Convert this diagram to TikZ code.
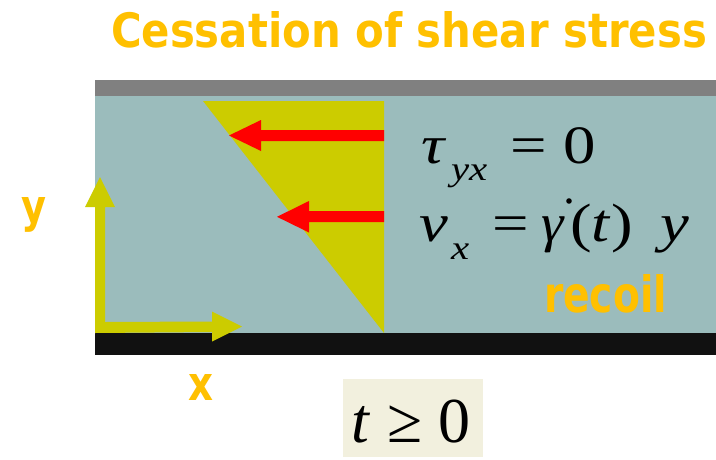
\documentclass[tikz,border=0pt]{standalone}
\usepackage{fontspec}
\setmainfont{Liberation Serif}
\newfontfamily\comicfont{DejaVu Sans}
\definecolor{fluid}{RGB}{155,188,188}
\definecolor{platetop}{RGB}{128,128,128}
\definecolor{platebot}{RGB}{17,17,17}
\definecolor{profile}{RGB}{204,204,0}
\definecolor{orangetxt}{RGB}{255,192,0}
\definecolor{boxbg}{RGB}{242,240,222}
\newcommand{\eqstretch}[1]{\scalebox{1.2}[1]{#1}}
\begin{document}
\begin{tikzpicture}[x=1pt,y=-1pt,
  every node/.style={inner sep=0pt,outer sep=0pt},
  orangelbl/.style={anchor=base west,text=orangetxt,font=\comicfont\bfseries},
  eqbig/.style={anchor=base west,font=\fontsize{54}{60}\selectfont},
  eqsub/.style={anchor=base west,font=\fontsize{34}{40}\selectfont\itshape},
  condtxt/.style={anchor=base west,font=\fontsize{64}{70}\selectfont},
  redarrow/.style={fill=red},
  axisarrow/.style={fill=profile}]
\useasboundingbox (0,0) rectangle (716,459);
\fill[white] (0,0) rectangle (716,459);
% title
\node[orangelbl] (title) at (111,47) {\resizebox{596pt}{36pt}{Cessation of shear stress}};
% plates and fluid
\fill[fluid] (95,96) rectangle (716,333);
\fill[platetop] (95,80) rectangle (716,96);
\fill[platebot] (95,333) rectangle (716,355);
% velocity profile
\fill[profile] (203,101) -- (384,101) -- (384,333) -- cycle;
% red velocity arrows
\fill[redarrow] (384,130) -- (261,130) -- (261,120) -- (229,135.5) -- (261,151) -- (261,141) -- (384,141) -- cycle;
\fill[redarrow] (384,211) -- (309,211) -- (309,201) -- (277,216.8) -- (309,232.5) -- (309,222) -- (384,222) -- cycle;
% axes
\fill[axisarrow] (95,333) -- (95,207) -- (85,207) -- (100,177) -- (115,207) -- (105,207) -- (105,322) -- (212,321.5) -- (212,311.5) -- (242,326.5) -- (212,341.5) -- (212,332) -- (95,333) -- cycle;
\node[orangelbl] (ylbl) at (22,222) {\resizebox{25pt}{25pt}{y}};
\node[orangelbl] (xlbl) at (188,400) {\resizebox{25pt}{26pt}{x}};
% equations
\node[eqbig] (tau) at (421,163) {\eqstretch{\itshape τ}};
\node[eqsub] (tausub) at (451,180) {\eqstretch{yx}};
\node[eqbig] (eq1) at (510,163) {\eqstretch{=}};
\node[eqbig] (zero1) at (563,163) {\eqstretch{0}};
\node[eqbig] (vel) at (419,241) {\eqstretch{\itshape v}};
\node[eqsub] (velsub) at (451,259) {\eqstretch{x}};
\node[eqbig] (eq2) at (492,241) {\eqstretch{=}};
\node[eqbig] (gam) at (541,241) {\scalebox{1.05}[1]{\itshape γ}};
\fill (569,201) circle (2.8);
\node[eqbig] (lp) at (570,241) {\eqstretch{(}};
\node[eqbig] (tt) at (591,241) {\eqstretch{\itshape t}};
\node[eqbig] (rp) at (611,241) {\eqstretch{)}};
\node[eqbig] (yy) at (660,241) {\eqstretch{\itshape y}};
\node[orangelbl] (recoil) at (544,312) {\resizebox{123pt}{38pt}{recoil}};
% time box
\node[fill=boxbg,minimum width=140pt,minimum height=78pt,anchor=north west] (tbox) at (343,379) {};
\node[condtxt] (tcond) at (351,442) {\itshape t};
\node[condtxt] (geq) at (387,442) {≥};
\node[condtxt] (zero2) at (438,442) {0};
\end{tikzpicture}
\end{document}
